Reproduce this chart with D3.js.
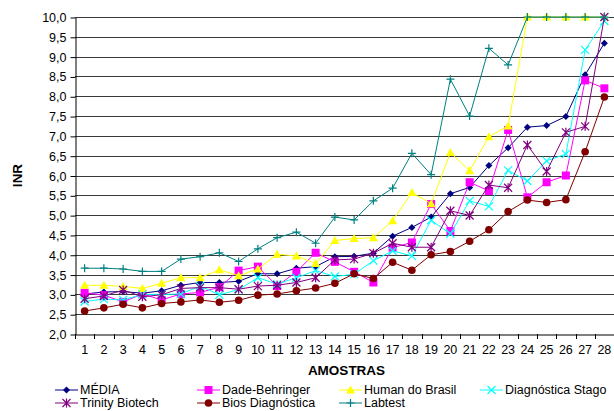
<!DOCTYPE html>
<html>
<head>
<meta charset="utf-8">
<script src="https://cdn.jsdelivr.net/npm/d3@7"></script>
<style>
  html, body { margin: 0; padding: 0; background: #fff; }
  svg { display: block; font-family: "Liberation Sans", Arial, sans-serif; }
</style>
</head>
<body>
<svg id="chart" width="614" height="411"></svg>
<script>
// Sample numbers along the x axis
const amostras = d3.range(1, 29);

// INR readings per laboratory / reagent
const media     = [3.01,3.06,3.07,3.03,3.09,3.23,3.30,3.30,3.33,3.52,3.52,3.66,3.70,3.95,3.96,4.04,4.47,4.69,4.95,5.54,5.70,6.25,6.70,7.22,7.26,7.49,8.54,9.34];
const dade      = [3.04,2.98,2.81,3.01,2.86,3.01,3.05,3.18,3.60,3.70,3.21,3.57,4.05,3.82,3.57,3.30,4.18,4.31,5.28,4.60,5.83,5.61,7.15,5.45,5.83,6.00,8.40,8.20];
const human     = [3.23,3.23,3.20,3.15,3.28,3.42,3.42,3.62,3.47,3.64,4.01,3.97,3.78,4.36,4.41,4.43,4.86,5.57,5.29,6.58,6.12,6.98,7.25,10.0,10.0,10.0,10.0,10.0];
const stago     = [2.82,2.88,2.86,3.00,3.00,3.01,3.21,2.99,3.12,3.42,3.26,3.42,3.60,3.45,3.51,3.85,4.10,3.97,4.87,4.53,5.36,5.22,6.13,5.86,6.37,6.54,9.17,9.90];
const trinity   = [2.89,2.96,3.11,2.94,2.99,3.15,3.17,3.17,3.13,3.21,3.23,3.30,3.42,3.87,3.89,4.04,4.29,4.19,4.19,5.11,4.99,5.76,5.69,6.77,6.10,7.09,7.24,10.0];
const bios      = [2.58,2.66,2.75,2.66,2.77,2.81,2.86,2.80,2.85,2.98,3.01,3.09,3.16,3.28,3.52,3.40,3.81,3.61,4.00,4.08,4.34,4.63,5.09,5.38,5.32,5.39,6.60,7.98];
const labtest   = [3.66,3.66,3.64,3.58,3.58,3.89,3.95,4.05,3.83,4.15,4.43,4.57,4.29,4.95,4.88,5.36,5.68,6.56,6.02,8.43,7.50,9.21,8.79,10.0,10.0,10.0,10.0,10.0];

const seriesNames  = ["MÉDIA","Dade-Behringer","Human do Brasil","Diagnóstica Stago","Trinity Biotech","Bios Diagnóstica","Labtest"];
const seriesValues = [media, dade, human, stago, trinity, bios, labtest];
const seriesColors = ["#000080","#ff00ff","#ffff00","#00ffff","#800080","#800000","#008080"];
const seriesMarkers = ["diamond","square","triangle","x","star","circle","plus"];

const yTicks = d3.range(2, 10.001, 0.5);
const fmt = v => v.toFixed(1).replace(".", ",");

const svg = d3.select("#chart");
const plotLeft = 75, plotRight = 614, plotTop = 17, plotBottom = 334;
const tickFont = 12.5;

const x = d3.scaleBand().domain(amostras).range([plotLeft, plotRight]).paddingInner(0).paddingOuter(0);
const y = d3.scaleLinear().domain([2, 10]).range([plotBottom, plotTop]);
const cx = d => x(d) + x.bandwidth() / 2;

// horizontal gridlines
svg.append("g").selectAll("line").data(yTicks.slice(1)).join("line")
  .attr("x1", plotLeft).attr("x2", plotRight)
  .attr("y1", d => Math.round(y(d)) + 0.5).attr("y2", d => Math.round(y(d)) + 0.5)
  .attr("stroke", "#3a3a3a").attr("stroke-width", 1);

// y axis
const yAxis = svg.append("g").attr("transform", `translate(${plotLeft + 0.5},0.5)`)
  .call(d3.axisLeft(y).tickValues(yTicks).tickFormat(fmt).tickSize(5).tickSizeOuter(0));
yAxis.select(".domain").attr("stroke", "#000");
yAxis.selectAll(".tick line").attr("stroke", "#000");
yAxis.selectAll(".tick text").attr("font-size", tickFont).attr("fill", "#000")
  .attr("font-family", "Liberation Sans, Arial, sans-serif").attr("x", -9);

// x axis
const xAxis = svg.append("g").attr("transform", `translate(0,${plotBottom + 0.5})`)
  .call(d3.axisBottom(x).tickSize(0).tickSizeOuter(0));
xAxis.select(".domain").attr("stroke", "#000");
xAxis.selectAll(".tick text").attr("font-size", tickFont).attr("fill", "#000")
  .attr("font-family", "Liberation Sans, Arial, sans-serif").attr("y", 11).attr("dy", "0.71em");
// category boundary ticks
svg.append("g").selectAll("line").data(d3.range(0, amostras.length + 1)).join("line")
  .attr("x1", i => Math.round(plotLeft + i * x.step()) + 0.5)
  .attr("x2", i => Math.round(plotLeft + i * x.step()) + 0.5)
  .attr("y1", plotBottom).attr("y2", plotBottom + 5)
  .attr("stroke", "#000");

// axis titles
svg.append("text").attr("x", plotLeft + (plotRight - plotLeft) / 2 + 2).attr("y", 375)
  .attr("text-anchor", "middle").attr("font-size", 13.5).attr("font-weight", "bold")
  .text("AMOSTRAS");
svg.append("text").attr("transform", `translate(22,${(plotTop + plotBottom) / 2}) rotate(-90)`)
  .attr("text-anchor", "middle").attr("font-size", 13.5).attr("font-weight", "bold")
  .text("INR");

// marker drawing helper
function marker(g, type, color, px, py) {
  switch (type) {
    case "diamond":
      g.append("path").attr("d", `M${px},${py-3.5}L${px+3.5},${py}L${px},${py+3.5}L${px-3.5},${py}Z`).attr("fill", color);
      break;
    case "square":
      g.append("rect").attr("x", px-4).attr("y", py-4).attr("width", 8).attr("height", 8).attr("fill", color);
      break;
    case "triangle":
      g.append("path").attr("d", `M${px},${py-4.5}L${px+4.5},${py+3.5}L${px-4.5},${py+3.5}Z`).attr("fill", color);
      break;
    case "circle":
      g.append("circle").attr("cx", px).attr("cy", py).attr("r", 3.8).attr("fill", color);
      break;
    case "x":
      g.append("path").attr("d", `M${px-4},${py-4}L${px+4},${py+4}M${px-4},${py+4}L${px+4},${py-4}`)
        .attr("stroke", color).attr("stroke-width", 1.2).attr("fill", "none");
      break;
    case "star":
      g.append("path").attr("d", `M${px-4},${py-4}L${px+4},${py+4}M${px-4},${py+4}L${px+4},${py-4}M${px},${py-4.5}L${px},${py+4.5}`)
        .attr("stroke", color).attr("stroke-width", 1.2).attr("fill", "none");
      break;
    case "plus":
      g.append("path").attr("d", `M${px-4},${py}L${px+4},${py}M${px},${py-4}L${px},${py+4}`)
        .attr("stroke", color).attr("stroke-width", 1.2).attr("fill", "none");
      break;
  }
}

// series lines with markers
const line = d3.line().x((d, i) => cx(amostras[i])).y(d => y(d));
const plot = svg.append("g");
seriesValues.forEach((vals, k) => {
  const g = plot.append("g");
  g.append("path").datum(vals).attr("d", line)
    .attr("fill", "none").attr("stroke", seriesColors[k]).attr("stroke-width", 1);
  vals.forEach((v, i) => marker(g, seriesMarkers[k], seriesColors[k], cx(amostras[i]), y(v)));
});

// legend
const legendPos = [[55, 390], [197, 390], [339, 390], [480, 390], [55, 403], [197, 403], [339, 403]];
const legend = svg.append("g");
seriesNames.forEach((name, k) => {
  const [lx, ly] = legendPos[k];
  const g = legend.append("g");
  g.append("line").attr("x1", lx).attr("x2", lx + 23).attr("y1", ly).attr("y2", ly)
    .attr("stroke", seriesColors[k]).attr("stroke-width", 1);
  marker(g, seriesMarkers[k], seriesColors[k], lx + 11.5, ly);
  g.append("text").attr("x", lx + 25).attr("y", ly).attr("dy", "0.35em")
    .attr("font-size", tickFont).attr("fill", "#000").text(name);
});
</script>
</body>
</html>
